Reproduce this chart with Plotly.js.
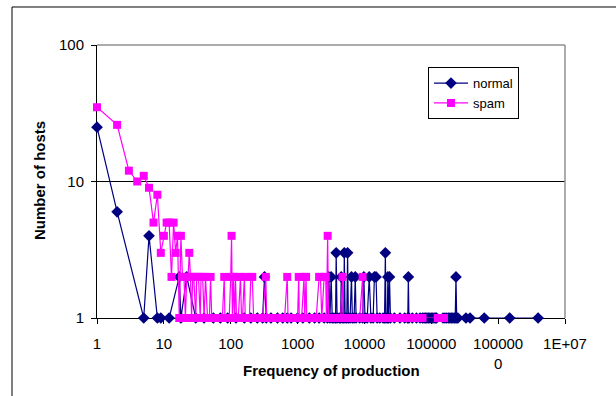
<!DOCTYPE html>
<html>
<head>
<meta charset="utf-8">
<script src="https://cdn.plot.ly/plotly-3.0.1.min.js"></script>
<style>
html,body{margin:0;padding:0;background:#fff;}
#chart{width:616px;height:396px;}
</style>
</head>
<body>
<div id="chart"></div>
<script>
// ---- data ----
var normalX = [1,2,5,6,8,9,12,17,18,22,30,40,55,70,90,120,160,200,250,300,320,340,400,500,600,700,800,1000,1200,1500,1800,2100,2500,2800,2940,3050,3180,3300,3500,3700,3780,3900,4200,4400,4500,4650,4900,5000,5150,5450,5600,5750,6100,6400,6600,7000,7300,7500,8500,9400,9800,10200,11000,11800,12500,13500,14100,14900,15500,17000,19000,20000,20560,21000,22000,22400,23000,23700,24500,28000,34000,40000,44500,45400,46300,52000,60000,68000,74000,78000,82000,86000,90000,95000,100000,105000,110000,115000,120000,150000,160000,170000,180000,190000,200000,210000,220000,228000,234000,240000,250000,330000,380000,620000,1490000,3960000];
var normalY = [25,6,1,4,1,1,1,2,1,2,1,1,1,1,1,1,1,1,1,1,2,1,1,1,1,1,1,1,1,1,1,1,1,1,2,1,2,1,1,1,3,1,1,1,2,1,1,3,1,1,3,1,1,2,1,1,2,1,1,1,2,1,1,2,1,1,2,2,1,1,1,1,3,1,1,2,1,2,1,1,1,1,1,2,1,1,1,1,1,1,1,1,1,1,1,1,1,1,1,1,1,1,1,1,1,1,1,1,2,1,1,1,1,1,1,1];
var spamX = [1,2,3,4,5,6,7,8,9,10,11,12,13,14,15,16,17,18,19,20,21,22,23,24,25,26,27,28,30,31,33,35,36,38,40,42,45,48,50,52,56,60,65,70,75,80,82,88,95,100,103,106,110,114,118,122,130,140,145,150,160,165,175,190,200,210,220,240,260,280,300,335,345,380,420,460,520,580,640,700,720,800,900,1000,1040,1060,1150,1250,1280,1340,1370,1500,1700,1900,2100,2200,2300,2500,2640,2700,2820,2900,3200,3600,4000,4400,4700,4800,5500,6500,7500,8500,9400,9600,11000,13000,15000,18000,21000,25000,30000,36000,43000,50000,60000,70000,74000,125000,135000,145000,155000];
var spamY = [35,26,12,10,11,9,5,8,3,4,5,5,2,5,3,4,1,4,2,2,1,2,2,3,2,1,2,2,1,2,2,1,2,2,1,2,1,1,2,1,1,1,1,1,1,2,1,1,1,2,4,1,2,1,2,1,1,2,1,1,2,1,1,1,2,2,1,1,1,1,1,2,1,1,1,1,1,1,1,2,1,1,1,1,2,1,1,2,1,2,1,1,1,1,2,2,1,2,2,1,4,1,1,1,1,1,2,1,1,1,1,1,2,1,1,1,1,1,1,1,1,1,1,1,1,1,1,1,1,1,1];
var xTickVals = [1,10,100,1000,10000,100000,1000000,10000000];
var xTickText = ['1','10','100','1000','10000','100000','100000<br>0','1E+07'];
var yTickVals = [1,10,100];
var yTickText = ['1','10','100'];

var FONT = 'Arial, "Liberation Sans", sans-serif';

var traces = [
  {
    x: normalX, y: normalY, name: 'normal', type: 'scatter', mode: 'lines+markers',
    line: {color: '#000080', width: 1.2},
    marker: {symbol: 'diamond', size: 9, color: '#000080'},
    cliponaxis: false
  },
  {
    x: spamX, y: spamY, name: 'spam', type: 'scatter', mode: 'lines+markers',
    line: {color: '#FF00FF', width: 1.2},
    marker: {symbol: 'square', size: 8, color: '#FF00FF'},
    cliponaxis: false
  }
];

var layout = {
  width: 616, height: 396,
  margin: {l: 97, r: 51, t: 45, b: 78},
  paper_bgcolor: '#ffffff', plot_bgcolor: '#ffffff',
  font: {family: FONT, size: 15, color: '#000'},
  showlegend: true,
  legend: {
    x: (428 - 97) / 468, y: 0.919, xanchor: 'left', yanchor: 'top',
    bgcolor: '#ffffff', bordercolor: '#000', borderwidth: 1,
    font: {family: FONT, size: 13, color: '#000'},
    itemwidth: 34, tracegroupgap: 0
  },
  xaxis: {
    type: 'log', range: [0, 7],
    tickmode: 'array', tickvals: xTickVals, ticktext: xTickText,
    ticks: 'outside', ticklen: 5, tickcolor: '#000', tickwidth: 1,
    showline: true, linecolor: '#000', linewidth: 1,
    showgrid: false, zeroline: false, layer: 'below traces',
    tickfont: {family: FONT, size: 15, color: '#000'},
    ticklabelstandoff: 7
  },
  yaxis: {
    type: 'log', range: [0, 2],
    tickmode: 'array', tickvals: yTickVals, ticktext: yTickText,
    ticks: 'outside', ticklen: 5, tickcolor: '#000', tickwidth: 1,
    showline: true, linecolor: '#000', linewidth: 1,
    showgrid: true, gridcolor: '#000', gridwidth: 1, zeroline: false, layer: 'below traces',
    tickfont: {family: FONT, size: 15, color: '#000'},
    ticklabelstandoff: 4
  },
  shapes: [
    {type: 'rect', xref: 'paper', yref: 'paper', x0: -0.1816, x1: 1.5, y0: -0.6, y1: 1.1392,
     line: {color: '#000', width: 1}, fillcolor: 'rgba(0,0,0,0)', layer: 'below'},
    {type: 'line', xref: 'paper', yref: 'paper', x0: 0, x1: 1, y0: 1, y1: 1,
     line: {color: '#909090', width: 1.5}},
    {type: 'line', xref: 'paper', yref: 'paper', x0: 1, x1: 1, y0: 0, y1: 1,
     line: {color: '#909090', width: 1.5}}
  ],
  annotations: [
    {text: '<b>Frequency of production</b>', xref: 'paper', yref: 'paper',
     x: (331.5 - 97) / 468, y: (318 - 370) / 273, xanchor: 'center', yanchor: 'middle',
     showarrow: false, font: {family: FONT, size: 15, color: '#000'}},
    {text: '<b>Number of hosts</b>', xref: 'paper', yref: 'paper',
     x: (39 - 97) / 468, y: (318 - 181) / 273, xanchor: 'center', yanchor: 'middle',
     textangle: -90, showarrow: false, font: {family: FONT, size: 15, color: '#000'}}
  ]
};

Plotly.newPlot('chart', traces, layout, {displayModeBar: false, staticPlot: true});
</script>
</body>
</html>
